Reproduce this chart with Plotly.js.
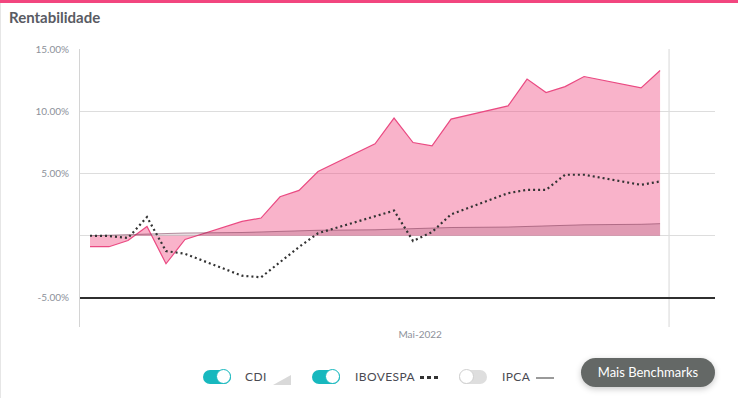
<!DOCTYPE html>
<html>
<head>
<meta charset="utf-8">
<script src="https://cdn.plot.ly/plotly-3.0.1.min.js"></script>
<style>
  html, body { margin: 0; padding: 0; width: 738px; height: 398px; overflow: hidden; background: #fff; font-family: Lato, "Open Sans", sans-serif; }
  #chart { position: absolute; left: 0; top: 0; width: 738px; height: 398px; }
  .topbar { position: absolute; left: 0; top: 0; width: 738px; height: 3px; background: #f2467f; z-index: 5; }
  .leftborder { position: absolute; left: 0; top: 3px; width: 1px; height: 395px; background: #e6e6e6; z-index: 5; }
  .tog { position: absolute; top: 370px; width: 28px; height: 14px; border-radius: 7px; z-index: 5; }
  .tog.on { background: #17b8be; }
  .tog.off { background: #dedede; }
  .knob { position: absolute; top: -1px; width: 13px; height: 13px; border-radius: 50%; background: #fff; }
  .tog.on .knob { right: 0; border: 1.5px solid #17b8be; }
  .tog.off .knob { left: 0; border: 1.5px solid #d0d0d0; }
  .lbl { position: absolute; top: 369px; font-size: 12px; color: #4a4a52; letter-spacing: 0.4px; z-index: 5; line-height: 16px; }
  .tri { position: absolute; left: 273px; top: 375px; width: 0; height: 0; border-left: 18px solid transparent; border-bottom: 10px solid #d9d9d9; z-index: 5; }
  .dash { position: absolute; left: 420px; top: 376px; width: 18px; height: 3px; z-index: 5;
          background: repeating-linear-gradient(90deg, #333 0 4px, transparent 4px 7px); }
  .ln { position: absolute; left: 536px; top: 377px; width: 18px; height: 2px; background: #9a9a9a; z-index: 5; }
  .btn { position: absolute; left: 581px; top: 358px; width: 134px; height: 29px; border-radius: 15px; background: #646866;
         color: #fff; font-size: 13px; line-height: 29px; text-align: center; box-shadow: 0 2px 6px rgba(0,0,0,0.22); z-index: 5; }
</style>
</head>
<body>
<div class="topbar"></div>
<div class="leftborder"></div>
<div id="chart"></div>

<div class="tog on" style="left:203px"><div class="knob"></div></div>
<div class="lbl" style="left:245px">CDI</div>
<div class="tri"></div>
<div class="tog on" style="left:312px"><div class="knob"></div></div>
<div class="lbl" style="left:355px">IBOVESPA</div>
<div class="dash"></div>
<div class="tog off" style="left:459px"><div class="knob"></div></div>
<div class="lbl" style="left:502px">IPCA</div>
<div class="ln"></div>
<div class="btn">Mais Benchmarks</div>

<script>
// ---- data ----
const dates = ["2022-05-01","2022-05-02","2022-05-03","2022-05-04","2022-05-05","2022-05-06",
               "2022-05-09","2022-05-10","2022-05-11","2022-05-12","2022-05-13",
               "2022-05-16","2022-05-17","2022-05-18","2022-05-19","2022-05-20",
               "2022-05-23","2022-05-24","2022-05-25","2022-05-26","2022-05-27",
               "2022-05-30","2022-05-31"];
const fundo = [-0.88,-0.88,-0.38,0.75,-2.25,-0.30,1.15,1.42,3.13,3.64,5.16,7.38,9.45,7.49,7.22,9.37,10.43,12.58,11.50,11.98,12.79,11.88,13.27];
const cdi = [0,0.04,0.09,0.13,0.18,0.22,0.26,0.31,0.35,0.40,0.44,0.48,0.53,0.57,0.62,0.66,0.70,0.75,0.79,0.84,0.88,0.92,0.97];
const ibovespa = [0,-0.02,-0.18,1.50,-1.23,-1.45,-3.21,-3.34,-2.12,-0.90,0.20,1.54,2.02,-0.42,0.30,1.72,3.42,3.69,3.69,4.90,4.90,4.09,4.36];
const yTicks = [-5,0,5,10,15];
const yTickText = ["-5.00%", "", "5.00%", "10.00%", "15.00%"];
const xTickVals = ["2022-05-18 09:00"];
const xTickText = ["Mai-2022"];

const traces = [
  { x: dates, y: fundo, type: "scatter", mode: "lines", fill: "tozeroy",
    fillcolor: "rgba(240,71,127,0.41)", line: { color: "#ea4a82", width: 1.2 }, name: "Fundo" },
  { x: dates, y: cdi, type: "scatter", mode: "lines", fill: "tozeroy",
    fillcolor: "rgba(80,20,50,0.15)", line: { color: "rgba(130,60,90,0.55)", width: 1 }, name: "CDI" },
  { x: dates, y: ibovespa, type: "scatter", mode: "lines",
    line: { color: "#333333", width: 2.2, dash: "2px,3px" }, name: "IBOVESPA" }
];

const layout = {
  width: 738, height: 398,
  margin: { l: 80, r: 23, t: 49, b: 71 },
  paper_bgcolor: "rgba(0,0,0,0)", plot_bgcolor: "rgba(0,0,0,0)",
  showlegend: false, hovermode: false,
  title: { text: "Rentabilidade", xref: "container", yref: "container", x: 9/738, xanchor: "left",
           y: 1 - 17.5/398, yanchor: "middle",
           font: { family: "Lato", size: 15, weight: "bold", color: "#595b63" } },
  xaxis: { type: "date", range: ["2022-04-30 11:22", "2022-06-02 21:22"],
           tickvals: xTickVals, ticktext: xTickText, showgrid: false, zeroline: false, showline: false,
           ticks: "", tickfont: { family: "Lato", size: 10, color: "#8d919a" } },
  yaxis: { range: [-7.33, 15], tickmode: "array", tickvals: yTicks, ticktext: yTickText,
           showgrid: true, gridcolor: "#dddddd", gridwidth: 1, zeroline: false,
           showline: true, linecolor: "#d4d4d4", linewidth: 1,
           ticks: "outside", ticklen: 8, tickcolor: "rgba(0,0,0,0)",
           tickfont: { family: "Lato", size: 10, color: "#8d919a" } },
  shapes: [
    { type: "line", xref: "paper", x0: 0, x1: 1, yref: "y", y0: -5, y1: -5, line: { color: "#2f2f2f", width: 2 } },
    { type: "line", xref: "x", x0: "2022-05-31 11:20", x1: "2022-05-31 11:20", yref: "paper", y0: 0, y1: 1,
      line: { color: "#d8d8d8", width: 1 }, layer: "below" }
  ]
};

Plotly.newPlot("chart", traces, layout, { displayModeBar: false, staticPlot: true });
</script>
</body>
</html>
